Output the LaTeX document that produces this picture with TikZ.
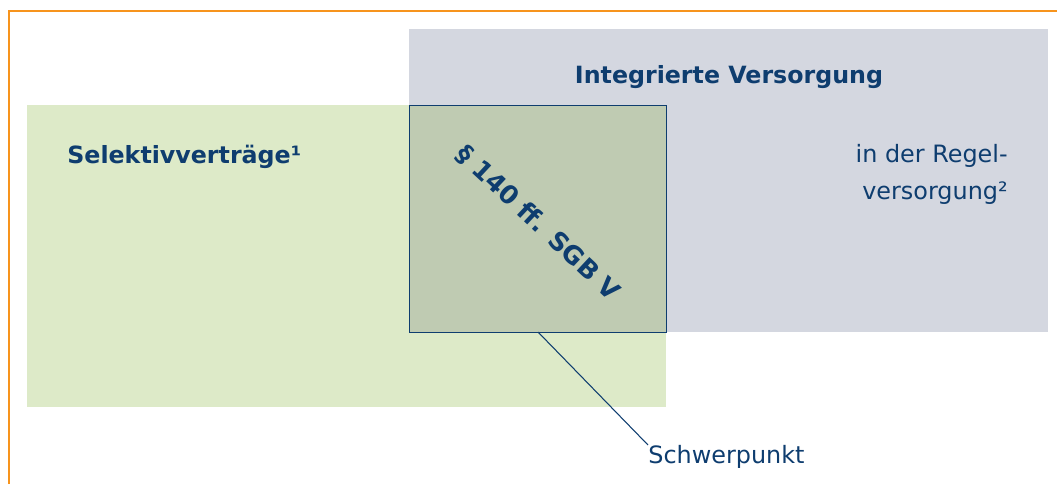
\documentclass[tikz,border=0pt]{standalone}
\usepackage{fontspec}
\setmainfont{DejaVu Sans}
\usetikzlibrary{positioning}
\definecolor{frameorange}{HTML}{F7941D}
\definecolor{selgreen}{HTML}{DDEAC8}
\definecolor{regelgray}{HTML}{D4D7E0}
\definecolor{mixgreen}{HTML}{BFCBB2}
\definecolor{textblue}{HTML}{0E3D6F}
\tikzset{
    area/.style = {rectangle, anchor=north west, inner sep=0pt, draw=none},
    overlapbox/.style = {area, draw=textblue, line width=0.6pt, fill=mixgreen},
    title/.style = {text=textblue, font=\fontsize{13.5}{16}\selectfont\bfseries},
    plain/.style = {text=textblue, font=\fontsize{13.6}{21}\selectfont},
    pointer/.style = {draw=textblue, line width=0.6pt},
}

\begin{document}
\begin{tikzpicture}[x=0.02cm,y=-0.02cm]
\useasboundingbox (0,0) rectangle (1057,484);
% frame lines
\draw[frameorange, line width=1.2pt] (9,484) -- (9,11) -- (1057,11);
% the two areas and their overlap
\node[area, fill=regelgray, minimum width=639*0.02cm, minimum height=303*0.02cm] at (409,29) (regel) {};
\node[area, fill=selgreen, minimum width=639*0.02cm, minimum height=302*0.02cm] at (27,105) (selektiv) {};
\node[overlapbox, minimum width=257*0.02cm, minimum height=227*0.02cm] at (409,105) (overlap) {};
%
\node[title] at (729,77) (integ) {Integrierte Versorgung};
\node[title, anchor=west, inner sep=0pt] at (67,157) (sel) {Selektivverträge¹};
\node[plain, align=right, anchor=east, inner sep=0pt] at (1008,174) (regtext) {in der Regel-\\versorgung²};
\node[title, font=\fontsize{14.5}{16}\selectfont\bfseries, rotate=-43] at (538,223) (para) {§ 140 ff. SGB V};
%
\coordinate (foot) at (538,332);
\node[plain, anchor=north west, inner sep=0pt] at (648,445) (schwer) {Schwerpunkt};
\draw[pointer] (foot) -- (schwer.north west);
\end{tikzpicture}
\end{document}
